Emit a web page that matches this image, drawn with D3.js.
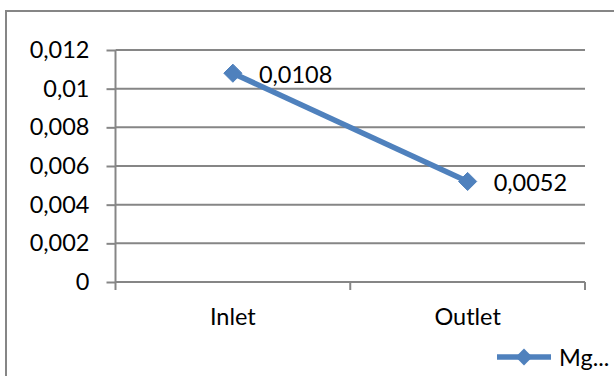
<!DOCTYPE html>
<html>
<head>
<meta charset="utf-8">
<script src="https://cdn.jsdelivr.net/npm/d3@7/dist/d3.min.js"></script>
<style>
  html, body { margin: 0; padding: 0; background: #ffffff; }
  svg { display: block; }
  text { font-family: Lato, "Open Sans", sans-serif; fill: #000; }
</style>
</head>
<body>
<svg id="chart" width="614" height="376"></svg>
<script>
// Series data
const categories = ["Inlet", "Outlet"];
const values = [0.0108, 0.0052];
const valueLabels = ["0,0108", "0,0052"];
const seriesName = "Mg...";
const yTicks = [0, 0.002, 0.004, 0.006, 0.008, 0.01, 0.012];
const yTickLabels = ["0", "0,002", "0,004", "0,006", "0,008", "0,01", "0,012"];

const svg = d3.select("#chart");
const gridColor = "#868686";
const seriesColor = "#4F81BD";
const fontSize = 23.5;

// Chart frame (runs off the right and bottom edges)
svg.append("rect")
  .attr("x", 6).attr("y", 11)
  .attr("width", 700).attr("height", 500)
  .attr("fill", "none")
  .attr("stroke", gridColor)
  .attr("stroke-width", 2);

const plot = { left: 115.5, right: 585, top: 50, bottom: 282 };

const x = d3.scaleBand().domain(categories).range([plot.left, plot.right]);
const y = d3.scaleLinear().domain([0, 0.012]).range([plot.bottom, plot.top]);
const cx = c => x(c) + x.bandwidth() / 2;

// Horizontal gridlines
svg.append("g").selectAll("line")
  .data(yTicks.filter(t => t > 0))
  .join("line")
  .attr("x1", plot.left).attr("x2", plot.right)
  .attr("y1", d => y(d)).attr("y2", d => y(d))
  .attr("stroke", gridColor).attr("stroke-width", 2);

// Y axis with outward ticks
const yAxis = d3.axisLeft(y)
  .tickValues(yTicks)
  .tickSize(9)
  .tickPadding(17)
  .tickFormat((d, i) => yTickLabels[i]);
const gy = svg.append("g")
  .attr("transform", `translate(${plot.left},0)`)
  .call(yAxis);
gy.select(".domain").attr("stroke", gridColor).attr("stroke-width", 2)
  .attr("d", `M0,${plot.top}V${plot.bottom}`);
gy.selectAll(".tick line").attr("stroke", gridColor).attr("stroke-width", 2);
gy.selectAll(".tick text")
  .attr("font-family", "Lato, 'Open Sans', sans-serif")
  .attr("font-size", fontSize)
  .attr("fill", "#000");

// X axis: ticks at category boundaries, labels at category centers
const boundaries = [plot.left].concat(categories.map(c => x(c) + x.bandwidth()));
const gx = svg.append("g");
gx.append("line")
  .attr("x1", plot.left).attr("x2", plot.right)
  .attr("y1", plot.bottom).attr("y2", plot.bottom)
  .attr("stroke", gridColor).attr("stroke-width", 2);
gx.selectAll(".xtick").data(boundaries).join("line")
  .attr("class", "xtick")
  .attr("x1", d => d).attr("x2", d => d)
  .attr("y1", plot.bottom).attr("y2", plot.bottom + 8)
  .attr("stroke", gridColor).attr("stroke-width", 2);
gx.selectAll(".xlabel").data(categories).join("text")
  .attr("class", "xlabel")
  .attr("x", d => cx(d))
  .attr("y", 325)
  .attr("text-anchor", "middle")
  .attr("font-size", fontSize)
  .text(d => d);

// Series line
const pts = categories.map((c, i) => ({ c, v: values[i], label: valueLabels[i] }));
svg.append("path")
  .datum(pts)
  .attr("fill", "none")
  .attr("stroke", seriesColor)
  .attr("stroke-width", 5.5)
  .attr("stroke-linejoin", "round")
  .attr("d", d3.line().x(d => cx(d.c)).y(d => y(d.v)));

// Diamond markers
const diamond = d3.symbol().type(d3.symbolDiamond2).size(210);
svg.append("g").selectAll("path")
  .data(pts)
  .join("path")
  .attr("d", diamond)
  .attr("transform", d => `translate(${cx(d.c)},${y(d.v)})`)
  .attr("fill", seriesColor)
  .attr("stroke", seriesColor)
  .attr("stroke-width", 1);

// Data labels to the right of each point
svg.append("g").selectAll("text")
  .data(pts)
  .join("text")
  .attr("x", d => cx(d.c) + 26)
  .attr("y", d => y(d.v) + 9.5)
  .attr("font-size", fontSize)
  .text(d => d.label);

// Legend
const lg = svg.append("g");
lg.append("line")
  .attr("x1", 497).attr("x2", 551)
  .attr("y1", 357).attr("y2", 357)
  .attr("stroke", seriesColor).attr("stroke-width", 5.5);
lg.append("path")
  .attr("d", d3.symbol().type(d3.symbolDiamond2).size(180))
  .attr("transform", "translate(524,357)")
  .attr("fill", seriesColor);
lg.append("text")
  .attr("x", 559).attr("y", 366)
  .attr("font-size", fontSize)
  .text(seriesName);
</script>
</body>
</html>
